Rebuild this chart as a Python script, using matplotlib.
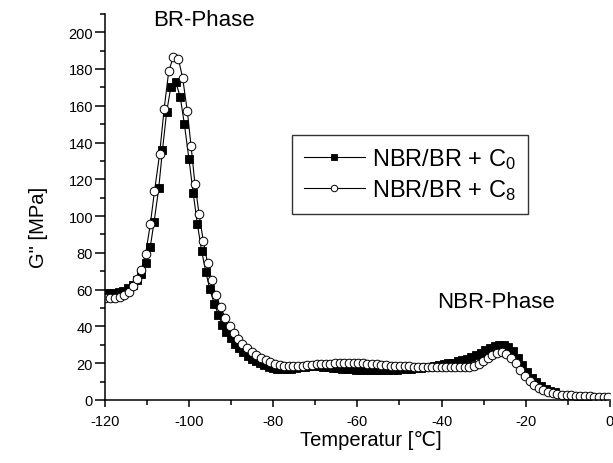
import matplotlib
matplotlib.use('Agg')
import matplotlib.pyplot as plt
from matplotlib.ticker import MultipleLocator

plt.rcParams['font.family'] = ['Liberation Sans', 'DejaVu Sans']
plt.rcParams['mathtext.fontset'] = 'custom'
plt.rcParams['mathtext.rm'] = 'Liberation Sans'
plt.rcParams['mathtext.it'] = 'Liberation Sans:italic'
plt.rcParams['axes.unicode_minus'] = False

# NBR/BR + C0 (gefuellte Quadrate)
temp_c0 = [-120.0, -118.9, -117.8, -116.7, -115.6, -114.5, -113.4, -112.3, -111.3, -110.3,
           -109.2, -108.3, -107.2, -106.3, -105.3, -104.3, -103.2, -102.1, -101.1, -100.0,
           -99.0, -98.0, -97.0, -96.0, -95.1, -94.0, -93.0, -92.1, -91.1, -90.1,
           -89.1, -88.1, -87.1, -86.1, -85.1, -84.1, -83.1, -82.1, -81.1, -80.1,
           -79.1, -78.0, -76.9, -75.8, -74.7, -73.6, -72.5, -71.4, -70.3, -69.2,
           -68.1, -67.0, -65.9, -64.8, -63.7, -62.6, -61.5, -60.4, -59.3, -58.2,
           -57.1, -56.0, -54.9, -53.8, -52.7, -51.6, -50.5, -49.4, -48.3, -47.2,
           -46.1, -45.0, -43.9, -42.8, -41.7, -40.6, -39.5, -38.4, -37.3, -36.2,
           -35.1, -34.0, -32.9, -31.8, -30.7, -29.6, -28.5, -27.4, -26.3, -25.2,
           -24.1, -23.0, -21.9, -20.8, -19.7, -18.6, -17.5, -16.4, -15.3, -14.2,
           -13.1]
g_c0 = [57.5, 57.9, 58.3, 58.8, 59.5, 60.6, 62.4, 65.0, 68.7, 74.7,
        83.2, 96.8, 115.0, 136.0, 156.8, 170.4, 173.1, 165.0, 150.0, 130.8,
        112.3, 95.5, 81.0, 69.6, 60.5, 52.3, 46.3, 41.0, 37.0, 33.5,
        30.5, 28.0, 25.8, 24.0, 22.4, 21.0, 19.8, 18.8, 18.0, 17.3,
        16.8, 16.6, 16.7, 17.0, 17.4, 17.8, 18.1, 18.3, 18.3, 18.2,
        18.0, 17.8, 17.5, 17.3, 17.0, 16.8, 16.6, 16.5, 16.4, 16.3,
        16.3, 16.2, 16.2, 16.2, 16.3, 16.4, 16.5, 16.6, 16.8, 17.0,
        17.2, 17.5, 17.8, 18.1, 18.5, 18.9, 19.3, 19.8, 20.3, 20.9,
        21.6, 22.4, 23.3, 24.4, 25.6, 27.0, 28.3, 29.4, 30.0, 29.8,
        28.7, 26.5, 23.0, 19.0, 15.2, 12.0, 9.5, 7.6, 6.1, 5.0,
        4.1]

# NBR/BR + C8 (offene Kreise)
temp_c8 = [-120.0, -118.8, -117.6, -116.5, -115.4, -114.3, -113.3, -112.3, -111.4, -110.3,
           -109.2, -108.2, -107.0, -105.9, -104.8, -103.7, -102.5, -101.5, -100.4, -99.5,
           -98.6, -97.6, -96.6, -95.6, -94.6, -93.6, -92.5, -91.4, -90.3, -89.3,
           -88.3, -87.3, -86.2, -85.1, -84.0, -82.9, -81.8, -80.7, -79.6, -78.5,
           -77.4, -76.3, -75.2, -74.1, -73.0, -71.9, -70.8, -69.7, -68.6, -67.5,
           -66.4, -65.3, -64.2, -63.1, -62.0, -60.9, -59.8, -58.7, -57.6, -56.5,
           -55.4, -54.3, -53.2, -52.1, -51.0, -49.9, -48.8, -47.7, -46.6, -45.5,
           -44.4, -43.3, -42.2, -41.1, -40.0, -38.9, -37.8, -36.7, -35.6, -34.5,
           -33.4, -32.3, -31.2, -30.1, -29.0, -27.9, -26.8, -25.7, -24.6, -23.5,
           -22.4, -21.3, -20.2, -19.1, -18.0, -16.9, -15.8, -14.7, -13.6, -12.5,
           -11.4, -10.3, -9.2, -8.1, -7.0, -5.9, -4.8, -3.7, -2.6, -1.5,
           -0.4]
g_c8 = [55.2, 55.4, 55.7, 56.1, 56.9, 58.6, 61.8, 65.5, 70.5, 79.5,
        95.5, 113.5, 133.5, 158.5, 179.0, 186.7, 185.3, 175.0, 157.0, 138.0,
        117.5, 101.0, 86.3, 74.5, 65.0, 57.0, 50.5, 44.8, 40.0, 36.2,
        33.2, 30.5, 28.0, 26.0, 24.2, 22.7, 21.5, 20.5, 19.7, 19.0,
        18.5, 18.3, 18.3, 18.5, 18.7, 18.9, 19.1, 19.3, 19.4, 19.6,
        19.7, 19.8, 19.9, 20.0, 20.0, 20.0, 19.9, 19.8, 19.7, 19.5,
        19.3, 19.1, 18.9, 18.7, 18.5, 18.4, 18.3, 18.2, 18.1, 18.0,
        18.0, 17.9, 17.9, 17.8, 17.8, 17.8, 17.8, 17.7, 17.7, 17.8,
        18.0, 18.6, 19.6, 21.0, 22.6, 24.2, 25.5, 26.0, 25.0, 23.0,
        19.8, 16.2, 13.0, 10.3, 8.2, 6.6, 5.4, 4.5, 3.8, 3.3,
        2.9, 2.6, 2.4, 2.2, 2.1, 2.0, 1.9, 1.8, 1.7, 1.7,
        1.6]

fig = plt.figure(figsize=(6.13, 4.64), dpi=100)
ax = fig.add_axes([0.171, 0.136, 0.824, 0.832])

ax.plot(temp_c0, g_c0, color='black', lw=0.8, marker='s', ms=5.2,
        mfc='black', mec='black', mew=0.6, label=r'NBR/BR + C$_\mathrm{0}$')
ax.plot(temp_c8, g_c8, color='black', lw=0.8, marker='o', ms=6.2,
        mfc='white', mec='black', mew=0.7, label=r'NBR/BR + C$_\mathrm{8}$')

ax.set_xlim(-120, 0)
ax.set_ylim(0, 210)
ax.xaxis.set_major_locator(MultipleLocator(20))
ax.xaxis.set_minor_locator(MultipleLocator(10))
ax.yaxis.set_major_locator(MultipleLocator(20))
ax.yaxis.set_minor_locator(MultipleLocator(10))

for s in ['top', 'right']:
    ax.spines[s].set_visible(False)
for s in ['left', 'bottom']:
    ax.spines[s].set_linewidth(1.1)

ax.tick_params(axis='x', which='major', direction='out', length=5, width=1.1, pad=5, labelsize=10.5)
ax.tick_params(axis='y', which='major', direction='out', length=7, width=1.1, pad=1.5, labelsize=10.5)
ax.tick_params(which='minor', direction='out', length=3.6, width=1.1)

ax.set_xlabel('Temperatur [℃]', fontsize=14.5)
ax.set_ylabel('G" [MPa]', fontsize=14.5)
ax.xaxis.set_label_coords(0.527, -0.078)
ax.yaxis.set_label_coords(-0.113, 0.45)

ax.text(-108.6, 207, 'BR-Phase', fontsize=16, ha='left', va='center')
ax.text(-41, 53.4, 'NBR-Phase', fontsize=16, ha='left', va='center')

leg = ax.legend(loc='upper left', bbox_to_anchor=(0.370, 0.687), borderaxespad=0,
                fontsize=17, frameon=True, fancybox=False, edgecolor='black',
                handlelength=2.6, handletextpad=0.3, borderpad=0.5,
                labelspacing=0.25, markerscale=0.75)
leg.get_frame().set_linewidth(1.0)

fig.savefig('out.png', dpi=100)
